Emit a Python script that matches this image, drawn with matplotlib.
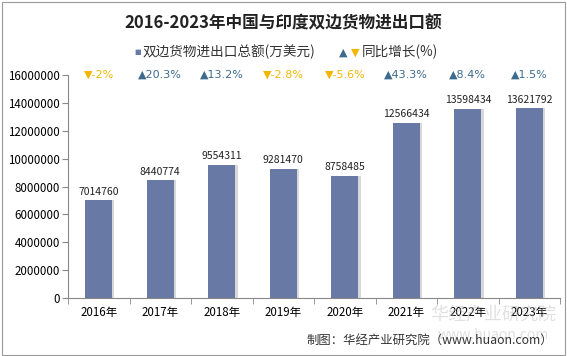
import numpy as np
import matplotlib.pyplot as plt
from matplotlib.patches import Rectangle

plt.rcParams['font.family'] = ['Noto Sans CJK SC', 'DejaVu Sans']

years = ['2016年', '2017年', '2018年', '2019年', '2020年', '2021年', '2022年', '2023年']
totals = [7014760, 8440774, 9554311, 9281470, 8758485, 12566434, 13598434, 13621792]
growth = [-2, 20.3, 13.2, -2.8, -5.6, 43.3, 8.4, 1.5]
growth_labels = ['-2%', '20.3%', '13.2%', '-2.8%', '-5.6%', '43.3%', '8.4%', '1.5%']

bar_color = '#6879a5'
up_color = '#3d6b8e'
down_color = '#f2b705'

fig = plt.figure(figsize=(5.67, 3.56), dpi=100)
ax = fig.add_axes([0.12, 0.163, 0.868, 0.626])

x = np.arange(len(years))
# light shadow to the right of each bar
ax.bar(x + 0.035, totals, width=0.44, color='#d8d8d8', zorder=1)
ax.bar(x, totals, width=0.44, color=bar_color, zorder=2)
for xi, v in zip(x, totals):
    ax.text(xi, v + 250000, str(v), ha='center', va='bottom', fontsize=7.5, color='#222222')

ax.set_xlim(-0.5, len(years) - 0.5)
ax.set_ylim(0, 16000000)
ax.set_yticks(np.arange(0, 16000001, 2000000))
ax.set_yticklabels([str(t) for t in range(0, 16000001, 2000000)], fontsize=8.3)
ax.set_xticks(x)
ax.set_xticklabels(years, fontsize=8.3)
ax.set_xticks(np.arange(-0.5, len(years), 1), minor=True)
ax.tick_params(axis='x', which='major', length=0, pad=6)
ax.tick_params(axis='x', which='minor', length=4, color='#888888')
ax.tick_params(axis='y', length=4, color='#888888', pad=2)
for s in ['top', 'right']:
    ax.spines[s].set_visible(False)
ax.spines['left'].set_color('#888888')
ax.spines['bottom'].set_color('#888888')

# growth row along the top
for xi, g, lab in zip(x, growth, growth_labels):
    col = up_color if g >= 0 else down_color
    mark = '▲' if g >= 0 else '▼'
    ax.text(xi, 16000000, mark + lab, ha='center', va='center', fontsize=8,
            color=col, family=['DejaVu Sans'])

fig.text(0.5, 0.935, '2016-2023年中国与印度双边货物进出口额', ha='center', va='center',
         fontsize=12, fontweight='bold', color='#222222')

# legend
ly = 0.853
fig.text(0.242, ly, '■', ha='center', va='center', fontsize=5, color=bar_color, family=['DejaVu Sans'])
fig.text(0.252, ly, '双边货物进出口总额(万美元)', ha='left', va='center', fontsize=9.8, color='#333333')
fig.text(0.605, ly, '▲', ha='center', va='center', fontsize=8, color=up_color, family=['DejaVu Sans'])
fig.text(0.626, ly, '▼', ha='center', va='center', fontsize=8, color=down_color, family=['DejaVu Sans'])
fig.text(0.638, ly, '同比增长(%)', ha='left', va='center', fontsize=9.8, color='#333333')

# watermark and source
fig.text(0.87, 0.115, '华经产业研究院', ha='center', va='center', fontsize=13,
         color='#bbbbbb', alpha=0.45, zorder=0)
fig.text(0.87, 0.06, 'www.huaon.com', ha='center', va='center', fontsize=10,
         color='#bbbbbb', alpha=0.45, zorder=0)
fig.text(0.975, 0.045, '制图：华经产业研究院（www.huaon.com）', ha='right', va='center',
         fontsize=8.9, color='#333333')

fig.patches.append(Rectangle((0.003, 0.004), 0.994, 0.99, transform=fig.transFigure,
                             fill=False, edgecolor='#999999', linewidth=0.8))

fig.savefig('out.png', dpi=100)
